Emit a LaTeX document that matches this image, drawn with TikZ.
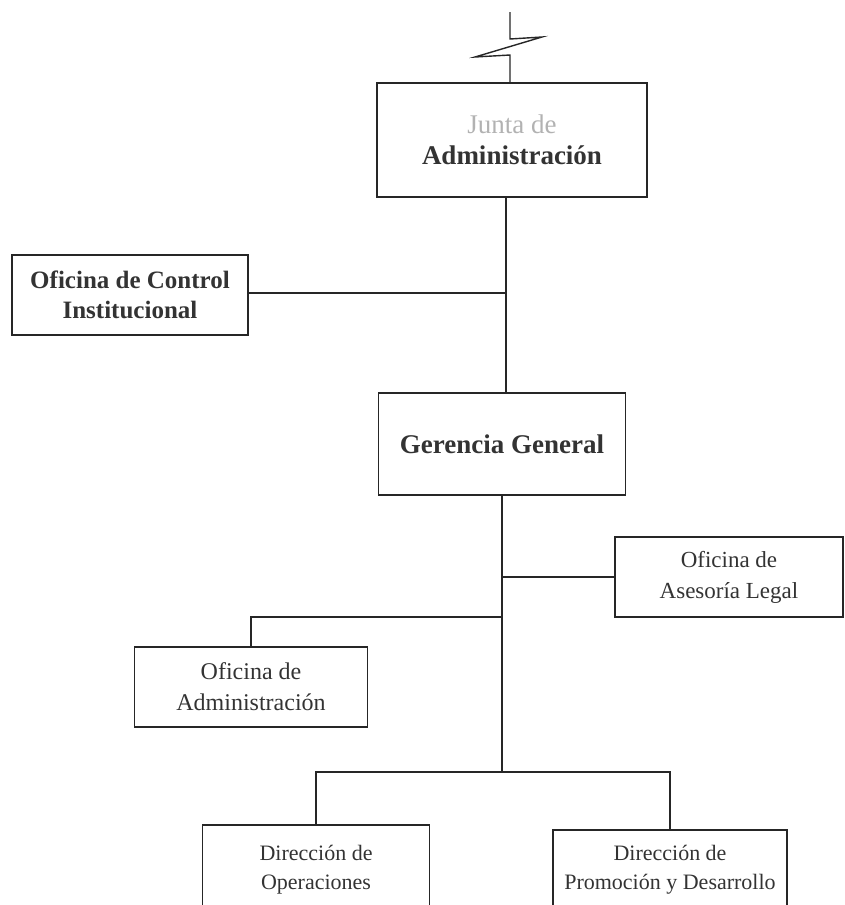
\documentclass[tikz,border=0pt]{standalone}
\usepackage{fontspec}
\setmainfont{Liberation Serif}
\begin{document}
\begin{tikzpicture}[x=1pt,y=-1pt,
  line/.style={draw=black!85, line width=1.4pt},
  box/.style={draw=black!85, line width=1.6pt, rectangle, inner sep=0pt, align=center, text=black!80},
  bfont/.style={font=\fontsize{27}{31}\selectfont\bfseries},
  mfont/.style={font=\fontsize{24}{31}\selectfont},
  sfont/.style={font=\fontsize{22}{29}\selectfont}]
\useasboundingbox (0,0) rectangle (844,905);
\clip (0,0) rectangle (844,905);
% nodes
\node[box, bfont, minimum width=270, minimum height=114] (top) at (512,140)
  {{\color{black!30}\mdseries Junta de}\\Administración};
\node[box, font=\fontsize{25}{30}\selectfont\bfseries, minimum width=236, minimum height=80] (ctrl) at (130,295)
  {Oficina de Control\\Institucional};
\node[box, bfont, minimum width=247, minimum height=102] (ger) at (502,444) {Gerencia General};
\node[box, font=\fontsize{23}{31}\selectfont, minimum width=228, minimum height=80] (ase) at (729,577)
  {Oficina de\\Asesoría Legal};
\node[box, mfont, minimum width=233, minimum height=80] (adm) at (251,687)
  {Oficina de\\Administración};
\node[box, sfont, minimum width=227, minimum height=90] (ops) at (316,870)
  {Dirección de\\Operaciones};
\node[box, sfont, minimum width=234, minimum height=80] (pro) at (670,870)
  {Dirección de\\Promoción y Desarrollo};
% break symbol above top box
\coordinate (brk0) at (510,12);
\coordinate (brk1) at (510,39);
\coordinate (brk2) at (542,37);
\coordinate (brk3) at (475,57);
\coordinate (brk4) at (top.north -| 510,55);
\draw[line] (brk0) -- (brk1) -- (brk2) -- (brk3) -- (510,55) -- (top.north -| brk0);
% junction points
\coordinate (jc) at (506,293);
\coordinate (ja) at (502,577);
\coordinate (jd) at (502,617);
\coordinate (jb) at (502,772);
% connectors
\draw[line] (top.south -| jc) -- (jc) -- (ger.north -| jc);
\draw[line] (ctrl.east |- jc) -- (jc);
\draw[line] (ger.south) -- (jb);
\draw[line] (ja) -- (ase.west);
\draw[line] (jd) -- (jd -| adm.north) -- (adm.north);
\draw[line] (ops.north) -- (ops.north |- jb) -- (pro.north |- jb) -- (pro.north);
\end{tikzpicture}
\end{document}
